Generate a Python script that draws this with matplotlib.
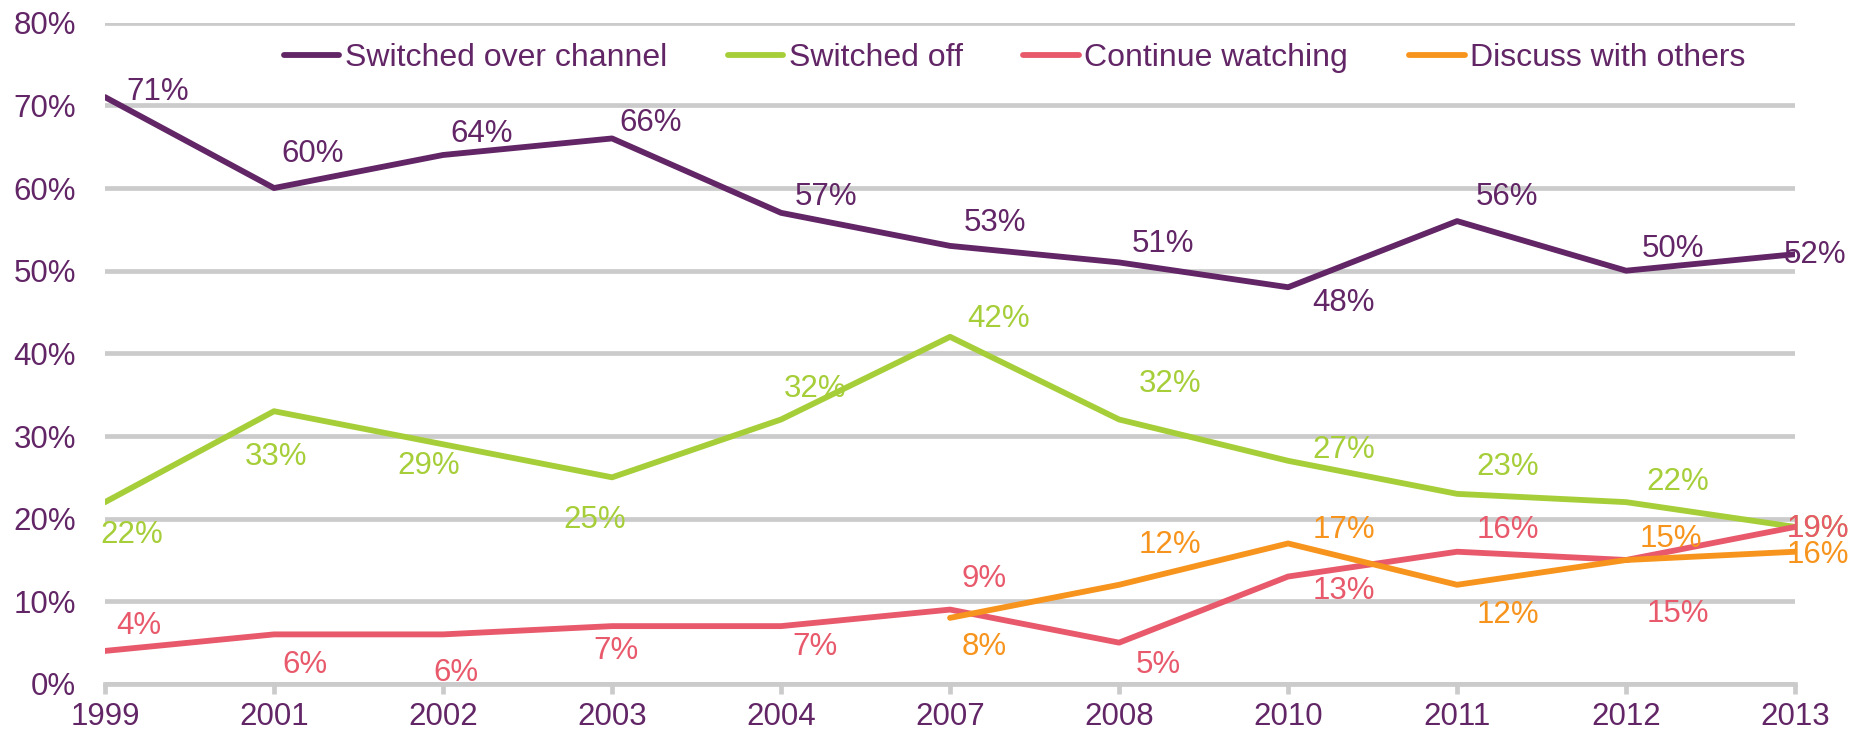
import numpy as np
import matplotlib
matplotlib.use("Agg")
import matplotlib.pyplot as plt

plt.rcParams['font.family'] = ['Liberation Sans', 'DejaVu Sans']

# datos
years = ['1999', '2001', '2002', '2003', '2004', '2007', '2008', '2010', '2011', '2012', '2013']
switched_over = [71, 60, 64, 66, 57, 53, 51, 48, 56, 50, 52]
switched_off = [22, 33, 29, 25, 32, 42, 32, 27, 23, 22, 19]
continue_watching = [4, 6, 6, 7, 7, 9, 5, 13, 16, 15, 19]
discuss = [None, None, None, None, None, 8, 12, 17, 12, 15, 16]

series_names = ['Switched over channel', 'Switched off', 'Continue watching', 'Discuss with others']
colors = ['#622566', '#A6CE39', '#E8596B', '#F7941D']

# desplazamiento de las etiquetas (px de referencia, +y hacia arriba)
off_over = [(45, 4), (33, 29), (33, 18), (33, 13), (38, 13), (38, 19), (37, 16), (47, -13), (42, 20), (40, 18), (17, -1)]
off_off = [(23, -28), (2, -39), (-12, -18), (-15, -36), (29, 26), (41, 15), (43, 30), (47, 9), (43, 23), (44, 17), (19, -2)]
off_cont = [(29, 21), (26, -26), (11, -33), (3, -21), (29, -18), (29, 26), (33, -19), (47, -12), (43, 18), (44, -46), (19, -2)]
off_disc = [None, None, None, None, None, (29, -25), (43, 34), (47, 11), (43, -26), (38, 18), (19, -3)]
ESC = 0.85  # px de referencia -> puntos

fig = plt.figure(figsize=(18.52, 7.38), dpi=100)
ax = fig.add_axes([0.0567, 0.0732, 0.9126, 0.896])

x = np.arange(len(years))
todas = [switched_over, switched_off, continue_watching, discuss]
offsets = [off_over, off_off, off_cont, off_disc]

for vals, name, col, offs in zip(todas, series_names, colors, offsets):
    xs = [i for i, v in enumerate(vals) if v is not None]
    ys = [vals[i] / 100 for i in xs]
    ax.plot(xs, ys, color=col, lw=4.2, label=name, solid_capstyle='round', zorder=3)
    for i in xs:
        dx, dy = offs[i]
        ax.annotate(f'{vals[i]}%', (i, vals[i] / 100), xytext=(dx * ESC, dy * ESC),
                    textcoords='offset points', ha='center', va='center',
                    fontsize=22.5, color=col, zorder=4, annotation_clip=False)

ax.set_xlim(0, len(years) - 1)
ax.set_ylim(0, 0.8)
ax.set_yticks(np.arange(0, 0.81, 0.1))
ax.set_yticklabels([f'{int(round(v * 100))}%' for v in np.arange(0, 0.81, 0.1)])
ax.set_xticks(x)
ax.set_xticklabels(years)

ax.grid(axis='y', color='#CBCBCB', lw=3.4, zorder=0)
ax.set_axisbelow(True)
for s in ['top', 'right', 'left']:
    ax.spines[s].set_visible(False)
ax.spines['bottom'].set_color('#CBCBCB')
ax.spines['bottom'].set_linewidth(3.4)
ax.tick_params(axis='y', length=0, pad=21, labelsize=22.5, labelcolor='#622566')
ax.tick_params(axis='x', length=7, width=3.4, color='#CBCBCB', pad=6, labelsize=22.5, labelcolor='#622566')

leg = ax.legend(loc='center', bbox_to_anchor=(0.538, 0.947), ncol=4, frameon=False,
                fontsize=23, handlelength=1.75, handletextpad=0.16, columnspacing=1.9,
                labelcolor='#622566')

fig.savefig('out.png', dpi=100)
